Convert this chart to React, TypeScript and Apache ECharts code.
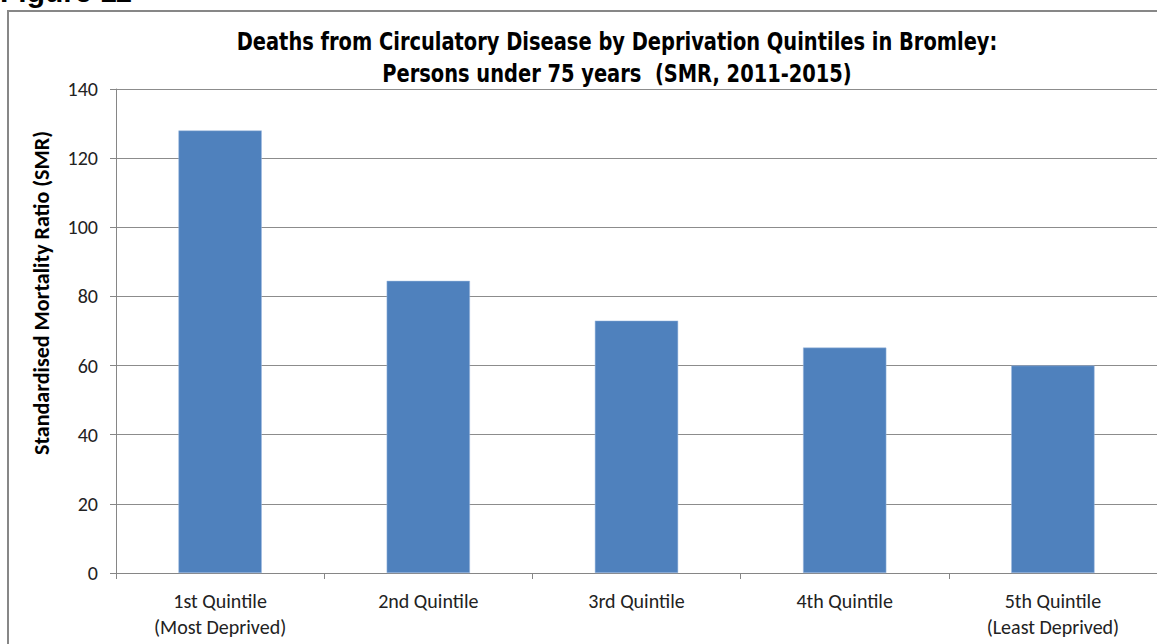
import React, { useEffect, useRef } from "react";
import * as echarts from "echarts";

const categories = [
  "1st Quintile\n(Most Deprived)",
  "2nd Quintile",
  "3rd Quintile",
  "4th Quintile",
  "5th Quintile\n(Least Deprived)",
];
const smrValues = [128, 84.5, 73, 65.2, 60];
const yTicks = { min: 0, max: 140, interval: 20 };
const titleLines = [
  "Deaths from Circulatory Disease by Deprivation Quintiles in Bromley:",
  "Persons under 75 years  (SMR, 2011-2015)",
];
const yAxisTitle = "Standardised Mortality Ratio (SMR)";
const figureLabel = "Figure 11";

export default function App() {
  const ref = useRef<HTMLDivElement>(null);
  useEffect(() => {
    if (!ref.current) return;
    const chart = echarts.init(ref.current, null, { renderer: "svg" });
    const labelFont = "Carlito, Calibri, Lato, sans-serif";
    const titleFont = "'Liberation Sans Narrow', 'Arial Narrow', 'DejaVu Sans Condensed', sans-serif";
    chart.setOption({
      animation: false,
      backgroundColor: "#ffffff",
      graphic: [
        {
          type: "rect",
          shape: { x: 8, y: 11, width: 1200, height: 700 },
          style: { fill: "none", stroke: "#878787", lineWidth: 2 },
          silent: true,
        },
        {
          type: "text",
          x: 0,
          y: -9,
          style: {
            text: figureLabel,
            font: "bold 30px 'Liberation Sans', Arial, sans-serif",
            fill: "#000000",
            textVerticalAlign: "middle",
          },
        },
        {
          type: "text",
          x: 617,
          y: 42,
          scaleX: 0.9,
          style: {
            text: titleLines[0],
            font: `bold 24px ${titleFont}`,
            fill: "#000000",
            textAlign: "center",
            textVerticalAlign: "middle",
          },
        },
        {
          type: "text",
          x: 617,
          y: 74,
          scaleX: 0.9,
          style: {
            text: titleLines[1],
            font: `bold 24px ${titleFont}`,
            fill: "#000000",
            textAlign: "center",
            textVerticalAlign: "middle",
          },
        },
        {
          type: "text",
          x: 41,
          y: 293,
          rotation: Math.PI / 2,
          style: {
            text: yAxisTitle,
            font: `bold 22px ${labelFont}`,
            fill: "#000000",
            textAlign: "center",
            textVerticalAlign: "middle",
          },
        },
      ],
      grid: { left: 116, top: 89, width: 1047, height: 484, containLabel: false },
      xAxis: {
        type: "category",
        data: categories,
        axisLine: { lineStyle: { color: "#868686", width: 1 } },
        axisTick: { show: true, length: 6, alignWithLabel: false, lineStyle: { color: "#868686" } },
        axisLabel: {
          margin: 15,
          fontFamily: labelFont,
          fontSize: 20,
          lineHeight: 26,
          color: "#222222",
          interval: 0,
        },
      },
      yAxis: {
        type: "value",
        min: yTicks.min,
        max: yTicks.max,
        interval: yTicks.interval,
        axisLine: { show: true, lineStyle: { color: "#868686", width: 1 } },
        axisTick: { show: true, length: 6, lineStyle: { color: "#868686" } },
        axisLabel: {
          margin: 18,
          fontFamily: labelFont,
          fontSize: 20,
          color: "#222222",
        },
        splitLine: { show: true, lineStyle: { color: "#8c8c8c", width: 1 } },
      },
      series: [
        {
          type: "bar",
          data: smrValues,
          barWidth: "40%",
          itemStyle: { color: "#4f81bd", borderColor: "#9fbbe0", borderWidth: 0.5 },
        },
      ],
    });
    return () => chart.dispose();
  }, []);
  return (
    <div
      ref={ref}
      style={{ position: "fixed", left: 0, top: 0, width: 1157, height: 644, background: "#fff" }}
    />
  );
}
